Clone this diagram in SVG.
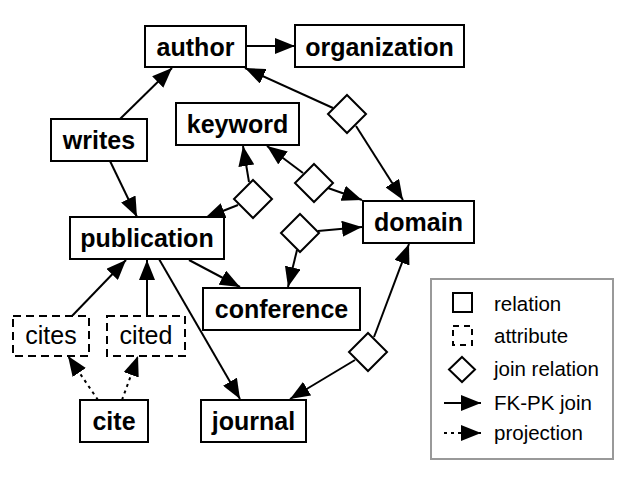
<svg xmlns="http://www.w3.org/2000/svg" width="638" height="488" viewBox="0 0 638 488">
<defs>
<style>
.box{fill:#fff;stroke:#000;stroke-width:2}
.attr{fill:#fff;stroke:#000;stroke-width:2;stroke-dasharray:8 5}
.dia{fill:#fff;stroke:#000;stroke-width:2}
.lbl{font-family:"Liberation Sans",Arial,Helvetica,sans-serif;font-weight:bold;font-size:25px;text-anchor:middle;fill:#000}
.albl{font-family:"Liberation Sans",Arial,Helvetica,sans-serif;font-size:25px;text-anchor:middle;fill:#000}
.leg{font-family:"Liberation Sans",Arial,Helvetica,sans-serif;font-size:20.5px;fill:#000}
.fk{fill:none;stroke:#000;stroke-width:2;marker-end:url(#ah)}
.pj{fill:none;stroke:#000;stroke-width:2;stroke-dasharray:3 4;marker-end:url(#ah)}
</style>
<marker id="ah" markerUnits="userSpaceOnUse" markerWidth="20" markerHeight="16" refX="20" refY="8" orient="auto">
<path d="M0,0 L20,8 L0,16 Z" fill="#000"/>
</marker>
</defs>
<rect width="638" height="488" fill="#fff"/>

<g id="connectors">
<line class="fk" x1="120" y1="119" x2="172" y2="68"/>
<line class="fk" x1="110" y1="161" x2="137" y2="217"/>
<line class="fk" x1="246" y1="46" x2="295" y2="46"/>
<line class="fk" x1="333" y1="108" x2="245" y2="68"/>
<line class="fk" x1="356" y1="126" x2="403" y2="200"/>
<line class="fk" x1="303" y1="173" x2="267" y2="146"/>
<line class="fk" x1="328" y1="188" x2="362" y2="200"/>
<line class="fk" x1="249" y1="182" x2="243" y2="146"/>
<line class="fk" x1="238" y1="205" x2="205" y2="218"/>
<line class="fk" x1="318" y1="231" x2="362" y2="227"/>
<line class="fk" x1="297" y1="250" x2="288" y2="287"/>
<line class="fk" x1="189" y1="260" x2="240" y2="287"/>
<line class="fk" x1="159" y1="259" x2="240" y2="399"/>
<line class="fk" x1="374" y1="337" x2="409" y2="244"/>
<line class="fk" x1="355" y1="360" x2="290" y2="399"/>
<line class="fk" x1="72" y1="316" x2="126" y2="260"/>
<line class="fk" x1="147" y1="316" x2="147" y2="260"/>
<line class="pj" x1="98" y1="400" x2="68" y2="356"/>
<line class="pj" x1="122" y1="400" x2="138" y2="356"/>
</g>

<g id="d_author_domain"><polygon class="dia" points="347,95 366,114 347,133 328,114"/></g>
<g id="d_keyword_domain"><polygon class="dia" points="314,164 333,183 314,202 295,183"/></g>
<g id="d_keyword_publication"><polygon class="dia" points="253,180 272,199 253,218 234,199"/></g>
<g id="d_conference_domain"><polygon class="dia" points="300,214 319,233 300,252 281,233"/></g>
<g id="d_journal_domain"><polygon class="dia" points="368,333 387,352 368,371 349,352"/></g>

<g id="author"><rect class="box" x="145" y="26" width="101" height="41"/><text class="lbl" x="195.5" y="55.5">author</text></g>
<g id="organization"><rect class="box" x="295" y="25" width="169" height="42"/><text class="lbl" x="379.5" y="55.5">organization</text></g>
<g id="writes"><rect class="box" x="51" y="119" width="96" height="42"/><text class="lbl" x="99" y="149">writes</text></g>
<g id="keyword"><rect class="box" x="176" y="103" width="123" height="42"/><text class="lbl" x="237.5" y="133">keyword</text></g>
<g id="publication"><rect class="box" x="70" y="217" width="154" height="42"/><text class="lbl" x="147" y="247">publication</text></g>
<g id="domain"><rect class="box" x="363" y="201" width="111" height="42"/><text class="lbl" x="418.5" y="231">domain</text></g>
<g id="conference"><rect class="box" x="203" y="288" width="157" height="42"/><text class="lbl" x="281.5" y="318">conference</text></g>
<g id="cites"><rect class="attr" x="13" y="316" width="76" height="40"/><text class="albl" x="51" y="344">cites</text></g>
<g id="cited"><rect class="attr" x="107" y="316" width="78" height="40"/><text class="albl" x="146" y="344">cited</text></g>
<g id="cite"><rect class="box" x="80" y="400" width="68" height="42"/><text class="lbl" x="114" y="430">cite</text></g>
<g id="journal"><rect class="box" x="201" y="400" width="105" height="42"/><text class="lbl" x="253.5" y="430">journal</text></g>

<g id="legend">
<rect x="431" y="279" width="182" height="180" fill="#fff" stroke="#999" stroke-width="2"/>
<rect class="box" x="453" y="293" width="19" height="19"/>
<text class="leg" x="494" y="311">relation</text>
<rect class="box" x="453" y="326" width="19" height="19" style="stroke-dasharray:6 5"/>
<text class="leg" x="494" y="343">attribute</text>
<polygon class="dia" points="462,357 475,369.5 462,382 449,369.5"/>
<text class="leg" x="494" y="376">join relation</text>
<line class="fk" x1="444" y1="403" x2="481" y2="403"/>
<text class="leg" x="494" y="410">FK-PK join</text>
<line class="pj" x1="444" y1="433" x2="481" y2="433"/>
<text class="leg" x="494" y="440">projection</text>
</g>
</svg>
